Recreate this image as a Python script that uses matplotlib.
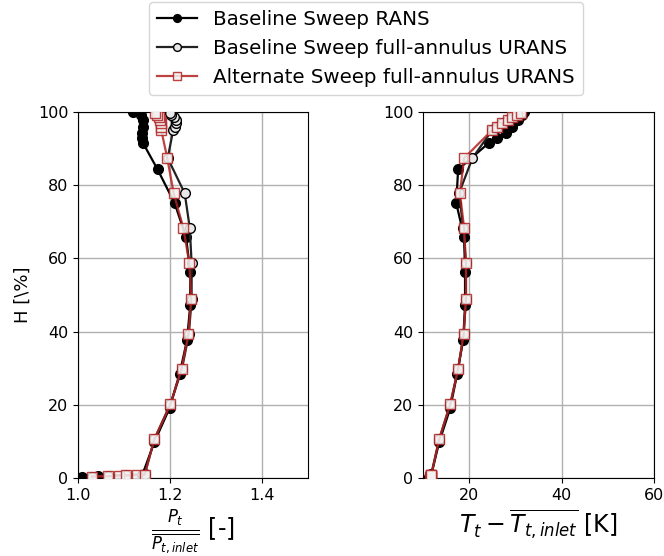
import numpy as np
import matplotlib
matplotlib.use("Agg")
import matplotlib.pyplot as plt

# --- data ---
# Baseline Sweep RANS
H_rans  = [0.3, 0.6, 0.9, 9.8, 19.1, 28.5, 37.7, 47.2, 56.3, 65.8, 75.1, 84.3,
           91.6, 93.0, 94.3, 96.0, 97.8, 99.2, 100.0]
Pt_rans = [1.008, 1.043, 1.14, 1.166, 1.199, 1.221, 1.237, 1.244, 1.244, 1.235, 1.210, 1.173,
           1.141, 1.139, 1.139, 1.141, 1.142, 1.136, 1.120]
T_rans  = [11.2, 11.5, 11.8, 13.5, 15.9, 17.4, 18.7, 19.1, 19.1, 18.9, 17.2, 17.6,
           24.3, 26.1, 27.9, 29.3, 30.5, 31.5, 31.9]

# Baseline Sweep full-annulus URANS
H_bu  = [0.4, 0.6, 0.8, 1.0, 10.6, 20.2, 29.8, 39.3, 48.9, 58.7, 68.3, 77.8, 87.4,
         95.1, 96.0, 96.9, 97.8, 98.6, 99.2, 99.6]
Pt_bu = [1.03, 1.065, 1.105, 1.145, 1.166, 1.201, 1.226, 1.241, 1.247, 1.247, 1.243, 1.232, 1.195,
         1.207, 1.211, 1.213, 1.212, 1.208, 1.203, 1.200]
T_bu  = [11.6, 11.7, 11.8, 11.8, 13.5, 15.9, 17.6, 18.8, 19.3, 19.3, 18.7, 17.8, 20.7,
         25.0, 26.1, 27.2, 28.3, 29.3, 30.4, 31.3]

# Alternate Sweep full-annulus URANS
H_alt  = [0.4, 0.5, 0.6, 0.7, 0.8, 0.9, 10.6, 20.2, 29.8, 39.3, 48.9, 58.7, 68.3, 77.8, 87.4,
          95.1, 96.0, 96.9, 97.8, 98.6, 99.2, 99.6]
Pt_alt = [1.03, 1.065, 1.09, 1.105, 1.128, 1.145, 1.166, 1.201, 1.225, 1.240, 1.246, 1.242, 1.229, 1.208, 1.194,
          1.181, 1.181, 1.180, 1.179, 1.177, 1.172, 1.168]
T_alt  = [11.6, 11.7, 11.7, 11.8, 11.8, 11.8, 13.5, 15.9, 17.6, 18.8, 19.3, 19.3, 18.9, 18.0, 18.9,
          25.0, 26.1, 27.2, 28.3, 29.3, 30.4, 31.3]

labels = ["Baseline Sweep RANS",
          "Baseline Sweep full-annulus URANS",
          "Alternate Sweep full-annulus URANS"]

red = "#b22222"

fig = plt.figure(figsize=(6.64, 5.56), dpi=100)
W, Hh = 664.0, 556.0
ax1 = fig.add_axes([78/W, 1-478/Hh, 230/W, 366/Hh])
ax2 = fig.add_axes([423/W, 1-478/Hh, 231/W, 366/Hh])

def draw(ax, x1, x2, x3):
    l1, = ax.plot(x1, H_rans, '-o', color='black', lw=1.6, ms=7,
                  mfc='black', mec='black', zorder=3)
    l2, = ax.plot(x2, H_bu, '-o', color='#222222', lw=1.6, ms=7,
                  mfc='#e8e8e8', mec='black', zorder=4)
    l3, = ax.plot(x3, H_alt, '-s', color=red, lw=1.6, ms=7,
                  mfc='#f2f2f2', mec=red, alpha=0.85, zorder=5)
    ax.set_ylim(0, 100)
    ax.grid(True, color='#b0b0b0', lw=1.0)
    ax.set_axisbelow(True)
    ax.tick_params(labelsize=11.5)
    return l1, l2, l3

handles = draw(ax1, Pt_rans, Pt_bu, Pt_alt)
draw(ax2, T_rans, T_bu, T_alt)

ax1.set_xlim(1.0, 1.5)
ax1.set_xticks([1.0, 1.2, 1.4])
ax1.set_ylabel(r"H [\%]", fontsize=13)
ax1.set_xlabel(r"$\frac{P_t}{\overline{P_{t,inlet}}}$ [-]", fontsize=17)

ax2.set_xlim(10, 60)
ax2.set_xticks([20, 40, 60])
ax2.set_xlabel(r"$T_t - \overline{T_{t,inlet}}$ [K]", fontsize=17)

fig.legend(handles, labels, loc='upper center', fontsize=14.3,
           bbox_to_anchor=(366/W, 1+8/Hh), markerscale=0.8)

fig.savefig("out.png", dpi=100)
